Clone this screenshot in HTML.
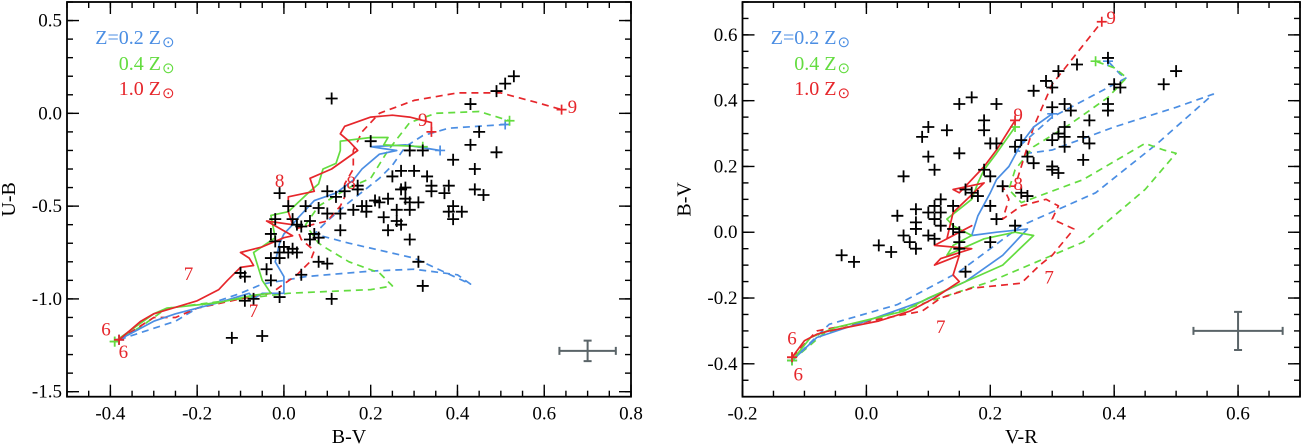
<!DOCTYPE html>
<html><head><meta charset="utf-8"><style>
html,body{margin:0;padding:0;background:#fff}
svg{display:block}
text{font-family:"Liberation Serif",serif}
</style></head><body>
<svg id="fig" width="1302" height="447"></svg>
<script>
// ===== Left panel data (B-V, U-B) =====
const leftObsX=[0.11,0.49,0.51,0.53,0.43,0.45,0.43,0.49,0.20,0.29,0.32,0.39,0.44,0.27,0.30,0.33,0.25,0.34,0.34,0.28,0.27,0.38,0.37,0.44,0.46,0.17,0.17,0.14,0.12,0.10,0.21,0.22,0.24,0.28,0.29,0.31,0.19,0.18,0.19,0.26,0.29,0.39,0.41,0.38,0.39,0.16,0.13,0.10,0.08,0.05,0.23,0.26,0.27,0.24,0.13,0.06,0.04,0.02,0.01,-0.01,-0.02,0.03,-0.03,0.07,0.08,0.06,-0.02,0.0,0.02,0.03,0.01,-0.01,-0.03,-0.01,-0.04,0.08,0.10,0.04,-0.03,-0.10,-0.09,0.29,0.31,0.32,0.11,-0.01,-0.07,-0.09,-0.12,-0.05];
const leftObsY=[0.08,0.12,0.16,0.20,0.05,-0.10,-0.17,-0.21,-0.15,-0.20,-0.20,-0.25,-0.30,-0.31,-0.31,-0.34,-0.34,-0.39,-0.42,-0.40,-0.41,-0.39,-0.43,-0.41,-0.44,-0.39,-0.41,-0.42,-0.45,-0.42,-0.47,-0.48,-0.46,-0.46,-0.48,-0.48,-0.50,-0.50,-0.53,-0.52,-0.52,-0.50,-0.53,-0.53,-0.57,-0.52,-0.54,-0.54,-0.51,-0.50,-0.56,-0.58,-0.60,-0.63,-0.63,-0.58,-0.61,-0.57,-0.50,-0.43,-0.57,-0.60,-0.65,-0.65,-0.67,-0.68,-0.69,-0.72,-0.73,-0.75,-0.75,-0.75,-0.78,-0.78,-0.84,-0.80,-0.81,-0.87,-0.90,-0.86,-0.88,-0.68,-0.80,-0.93,-1.00,-0.99,-1.00,-1.01,-1.21,-1.20];
const leftRedSolidX=[-0.38,-0.33,-0.30,-0.20,-0.15,-0.13,-0.10,-0.07,-0.08,-0.10,-0.05,0.00,0.02,-0.04,0.02,0.01,0.01,0.07,0.06,0.11,0.17,0.15,0.13,0.14,0.20,0.25,0.29,0.34,0.34];
const leftRedSolidY=[-1.22,-1.12,-1.08,-1.01,-0.95,-0.90,-0.83,-0.82,-0.78,-0.75,-0.72,-0.67,-0.66,-0.58,-0.60,-0.53,-0.45,-0.42,-0.35,-0.30,-0.20,-0.15,-0.11,-0.07,-0.02,-0.01,-0.02,-0.05,-0.10];
const leftRedDashX=[-0.38,-0.30,-0.25,-0.20,-0.10,-0.03,0.03,0.06,0.07,0.04,0.03,0.10,0.13,0.14,0.14,0.16,0.16,0.18,0.22,0.30,0.40,0.50,0.58,0.64];
const leftRedDashY=[-1.22,-1.10,-1.10,-1.05,-1.00,-0.97,-0.87,-0.80,-0.74,-0.68,-0.62,-0.58,-0.50,-0.45,-0.38,-0.30,-0.20,-0.10,0.00,0.07,0.11,0.11,0.06,0.02];
const leftGreenSolidX=[-0.39,-0.30,-0.27,-0.15,-0.07,-0.03,-0.05,-0.07,-0.02,-0.03,0.01,0.06,0.08,0.09,0.12,0.13,0.13,0.20,0.24,0.23,0.32];
const leftGreenSolidY=[-1.23,-1.08,-1.05,-1.02,-0.98,-0.97,-0.90,-0.75,-0.67,-0.55,-0.53,-0.42,-0.38,-0.30,-0.27,-0.20,-0.15,-0.13,-0.13,-0.17,-0.18];
const leftGreenDashX=[-0.39,-0.33,-0.27,-0.10,0.01,0.10,0.20,0.25,0.22,0.15,0.10,0.08,0.05,0.08,0.15,0.20,0.24,0.29,0.35,0.45,0.52];
const leftGreenDashY=[-1.23,-1.15,-1.05,-1.00,-0.97,-0.96,-0.95,-0.93,-0.86,-0.80,-0.73,-0.70,-0.60,-0.50,-0.40,-0.35,-0.20,-0.05,0.00,0.01,-0.04];
const leftBlueSolidX=[-0.38,-0.30,-0.25,-0.15,-0.08,-0.07,-0.05,0.00,0.00,-0.02,-0.01,0.00,0.02,0.03,0.07,0.12,0.16,0.18,0.22,0.26,0.20,0.28,0.36];
const leftBlueSolidY=[-1.22,-1.12,-1.08,-1.02,-0.97,-1.00,-0.97,-0.97,-0.88,-0.80,-0.70,-0.65,-0.60,-0.57,-0.47,-0.43,-0.36,-0.30,-0.22,-0.20,-0.18,-0.17,-0.20];
const leftBlueDashX=[-0.38,-0.25,-0.20,-0.10,-0.05,0.05,0.20,0.30,0.40,0.43,0.30,0.15,0.07,0.10,0.15,0.22,0.25,0.28,0.32,0.38,0.51];
const leftBlueDashY=[-1.22,-1.12,-1.05,-0.97,-0.92,-0.88,-0.85,-0.84,-0.87,-0.92,-0.78,-0.70,-0.65,-0.58,-0.48,-0.35,-0.28,-0.18,-0.12,-0.08,-0.06];
const leftAgeLabels=["6","6","7","7","8","8","9","9"];
const leftAgeX=[-0.41,-0.37,-0.22,-0.07,-0.01,0.155,0.32,0.665];
const leftAgeY=[-1.16,-1.28,-0.86,-1.06,-0.36,-0.37,-0.03,0.04];
const leftXTicks=[-0.4,-0.2,0.0,0.2,0.4,0.6,0.8];
const leftXTickLabels=["-0.4","-0.2","0.0","0.2","0.4","0.6","0.8"];
const leftYTicks=[0.5,0.0,-0.5,-1.0,-1.5];
const leftYTickLabels=["0.5","0.0","-0.5","-1.0","-1.5"];

// ===== Right panel data (V-R, B-V) =====
const rightObsX=[-0.04,-0.02,0.02,0.04,0.05,0.06,0.06,0.07,0.08,0.08,0.08,0.08,0.09,0.10,0.10,0.11,0.10,0.11,0.11,0.10,0.11,0.12,0.12,0.12,0.13,0.14,0.14,0.15,0.15,0.17,0.15,0.15,0.15,0.16,0.16,0.17,0.18,0.19,0.19,0.19,0.20,0.20,0.20,0.20,0.21,0.21,0.21,0.22,0.24,0.25,0.25,0.26,0.26,0.27,0.24,0.27,0.29,0.30,0.30,0.31,0.30,0.31,0.32,0.32,0.32,0.32,0.33,0.30,0.30,0.31,0.34,0.35,0.35,0.36,0.36,0.39,0.39,0.39,0.40,0.41,0.48,0.50];
const rightObsY=[-0.07,-0.09,-0.04,-0.06,0.05,0.17,-0.01,-0.03,-0.05,0.07,0.03,0.01,0.29,0.32,0.23,0.19,0.06,0.08,0.04,-0.01,-0.02,0.06,0.02,0.10,0.31,0.08,0.01,0.39,0.24,0.41,0.00,-0.03,-0.05,-0.12,0.13,0.12,0.11,0.34,0.31,0.19,0.27,0.17,0.08,-0.03,0.39,0.27,0.04,0.14,0.26,0.28,0.12,0.11,0.23,0.21,0.02,0.43,0.46,0.44,0.38,0.49,0.28,0.30,0.32,0.29,0.26,0.39,0.37,0.20,0.19,0.18,0.51,0.29,0.22,0.27,0.34,0.53,0.39,0.37,0.45,0.44,0.45,0.49];
const rightRedSolidX=[-0.12,-0.10,-0.08,-0.06,0.02,0.07,0.09,0.11,0.15,0.14,0.15,0.11,0.12,0.17,0.11,0.17,0.13,0.14,0.19,0.14,0.15,0.19,0.21,0.24];
const rightRedSolidY=[-0.38,-0.33,-0.31,-0.30,-0.27,-0.24,-0.22,-0.20,-0.15,-0.13,-0.07,-0.10,-0.08,-0.05,-0.04,0.02,-0.02,0.06,0.15,0.13,0.12,0.20,0.25,0.34];
const rightRedDashX=[-0.12,-0.08,0.09,0.12,0.17,0.25,0.28,0.30,0.335,0.30,0.31,0.29,0.25,0.22,0.23,0.22,0.24,0.25,0.26,0.27,0.30,0.38];
const rightRedDashY=[-0.38,-0.30,-0.24,-0.20,-0.17,-0.155,-0.10,-0.07,0.01,0.04,0.08,0.10,0.08,0.04,0.10,0.14,0.14,0.20,0.26,0.32,0.45,0.64];
const rightGreenSolidX=[-0.12,-0.09,-0.05,0.06,0.10,0.16,0.22,0.27,0.24,0.19,0.13,0.14,0.17,0.14,0.13,0.15,0.17,0.18,0.19,0.21,0.24];
const rightGreenSolidY=[-0.39,-0.32,-0.29,-0.24,-0.20,-0.15,-0.10,-0.01,0.00,-0.02,-0.07,-0.04,-0.01,0.02,0.04,0.07,0.10,0.15,0.19,0.24,0.32];
const rightGreenDashX=[-0.12,-0.07,0.02,0.20,0.35,0.45,0.50,0.48,0.45,0.35,0.25,0.23,0.24,0.27,0.33,0.39,0.42,0.40,0.37];
const rightGreenDashY=[-0.39,-0.31,-0.26,-0.15,-0.03,0.13,0.24,0.25,0.27,0.16,0.09,0.13,0.19,0.26,0.33,0.41,0.47,0.50,0.52];
const rightBlueSolidX=[-0.12,-0.08,0.00,0.09,0.16,0.22,0.26,0.21,0.17,0.18,0.20,0.21,0.23,0.25,0.27,0.30];
const rightBlueSolidY=[-0.39,-0.32,-0.27,-0.21,-0.15,-0.07,0.01,0.00,-0.01,0.05,0.12,0.16,0.20,0.27,0.32,0.36];
const rightBlueDashX=[-0.12,-0.06,0.05,0.15,0.25,0.37,0.47,0.56,0.50,0.40,0.30,0.26,0.24,0.30,0.37,0.42,0.41,0.39];
const rightBlueDashY=[-0.39,-0.28,-0.22,-0.12,0.02,0.12,0.27,0.42,0.38,0.32,0.25,0.24,0.25,0.35,0.42,0.47,0.48,0.52];
const rightAgeLabels=["6","6","7","7","8","9","9"];
const rightAgeX=[-0.12,-0.11,0.12,0.295,0.245,0.245,0.395];
const rightAgeY=[-0.32,-0.43,-0.285,-0.135,0.15,0.36,0.655];
const rightXTicks=[-0.2,0.0,0.2,0.4,0.6];
const rightXTickLabels=["-0.2","0.0","0.2","0.4","0.6"];
const rightYTicks=[0.6,0.4,0.2,0.0,-0.2,-0.4];
const rightYTickLabels=["0.6","0.4","0.2","0.0","-0.2","-0.4"];

const NS="http://www.w3.org/2000/svg";
const svg=document.getElementById('fig');
const RED="#e6262b",GREEN="#63dc3f",BLUE="#4b8ee3",GRAY="#5a6468";
function mk(tag,attrs,parent){const e=document.createElementNS(NS,tag);for(const k in attrs)e.setAttribute(k,attrs[k]);(parent||svg).appendChild(e);return e;}

function panel(cfg){
  const g=mk('g',{});
  
  
  const sx=v=>cfg.x0+(v-cfg.xmin)/(cfg.xmax-cfg.xmin)*(cfg.x1-cfg.x0);
  const sy=v=>cfg.y1-(v-cfg.ymin)/(cfg.ymax-cfg.ymin)*(cfg.y1-cfg.y0);
  const fr=mk('rect',{x:cfg.x0,y:cfg.y0,width:cfg.x1-cfg.x0,height:cfg.y1-cfg.y0,fill:'none',stroke:'#000','stroke-width':1.8},g);
  
  
  for(let v=Math.ceil(cfg.xmin/cfg.xminor-1e-6)*cfg.xminor;v<=cfg.xmax+1e-6;v+=cfg.xminor){
    const X=sx(v);mk('line',{x1:X,x2:X,y1:cfg.y1,y2:cfg.y1-6,stroke:'#000','stroke-width':1.4},g);mk('line',{x1:X,x2:X,y1:cfg.y0,y2:cfg.y0+6,stroke:'#000','stroke-width':1.4},g);}
  for(let v=Math.ceil(cfg.ymin/cfg.yminor-1e-6)*cfg.yminor;v<=cfg.ymax+1e-6;v+=cfg.yminor){
    const Y=sy(v);mk('line',{x1:cfg.x0,x2:cfg.x0+6,y1:Y,y2:Y,stroke:'#000','stroke-width':1.4},g);mk('line',{x1:cfg.x1,x2:cfg.x1-6,y1:Y,y2:Y,stroke:'#000','stroke-width':1.4},g);}
  cfg.xt.forEach((v,i)=>{const X=sx(v);
    mk('line',{x1:X,x2:X,y1:cfg.y1,y2:cfg.y1-12,stroke:'#000','stroke-width':1.4},g);
    mk('line',{x1:X,x2:X,y1:cfg.y0,y2:cfg.y0+12,stroke:'#000','stroke-width':1.4},g);
    const t=mk('text',{x:X,y:cfg.y1+23,'font-size':19,'text-anchor':'middle'},g);t.textContent=cfg.xtl[i];
    
    });
  cfg.yt.forEach((v,i)=>{const Y=sy(v);
    mk('line',{x1:cfg.x0,x2:cfg.x0+12,y1:Y,y2:Y,stroke:'#000','stroke-width':1.4},g);
    mk('line',{x1:cfg.x1,x2:cfg.x1-12,y1:Y,y2:Y,stroke:'#000','stroke-width':1.4},g);
    const t=mk('text',{x:cfg.x0-5,y:Y+6,'font-size':19,'text-anchor':'end'},g);t.textContent=cfg.ytl[i];
    
    });
  const xt=mk('text',{x:(cfg.x0+cfg.x1)/2,y:443,'font-size':20,'text-anchor':'middle'},g);xt.textContent=cfg.xtitle;
  
  
  const yx=cfg.x0-52,yy=(cfg.y0+cfg.y1)/2;
  const yt=mk('text',{x:yx,y:yy,'font-size':20,'text-anchor':'middle',transform:`rotate(-90 ${yx} ${yy})`},g);yt.textContent=cfg.ytitle;
  
  
  cfg.tracks.forEach(tr=>{
    const pts=tr.xs.map((v,i)=>sx(v).toFixed(1)+','+sy(tr.ys[i]).toFixed(1)).join(' ');
    const p=mk('polyline',{points:pts,fill:'none',stroke:tr.c,'stroke-width':1.7,'stroke-dasharray':tr.d?'7,5':'none','stroke-linejoin':'round'},g);
    
    
    [0,tr.xs.length-1].forEach(i=>{const X=sx(tr.xs[i]),Y=sy(tr.ys[i]);
      mk('path',{d:`M${X-5},${Y}H${X+5}M${X},${Y-5}V${Y+5}`,stroke:tr.c,'stroke-width':1.7},g);});
  });
  cfg.ox.forEach((v,i)=>{const X=sx(v),Y=sy(cfg.oy[i]);
    const c=mk('path',{d:`M${X-6},${Y}H${X+6}M${X},${Y-6}V${Y+6}`,stroke:'#000','stroke-width':1.8},g);
    
    });
  cfg.al.forEach((s,i)=>{const t=mk('text',{x:sx(cfg.ax[i]),y:sy(cfg.ay[i])+7,'font-size':19,fill:RED,'text-anchor':'middle'},g);t.textContent=s;
    
    });
  const e=cfg.err,EX=sx(e[0]),EY=sy(e[1]),X0=sx(e[0]-e[2]),X1=sx(e[0]+e[2]),Y0=sy(e[1]+e[3]),Y1=sy(e[1]-e[3]);
  const eb=mk('path',{d:`M${X0},${EY}H${X1}M${EX},${Y0}V${Y1}M${X0},${EY-4}V${EY+4}M${X1},${EY-4}V${EY+4}M${EX-4},${Y0}H${EX+4}M${EX-4},${Y1}H${EX+4}`,stroke:GRAY,'stroke-width':2,fill:'none'},g);
  
  
  const lg=mk('g',{},g);
  
  
  [["Z=0.2 Z",BLUE,0],["0.4 Z",GREEN,26],["1.0 Z",RED,51]].forEach(([s,c,dy])=>{
    const t=mk('text',{x:cfg.x0+94,y:cfg.y0+42+dy,'font-size':20,fill:c,'text-anchor':'end'},lg);t.textContent=s;
    
    
    const s2=mk('text',{x:cfg.x0+95,y:cfg.y0+45+dy,'font-size':15,fill:c},lg);s2.textContent='⊙';
  });
}

panel({name:'left-panel-ub-vs-bv',x0:67,x1:631,y0:2,y1:396.7,xmin:-0.5,xmax:0.8,ymin:-1.527,ymax:0.6,xminor:0.05,yminor:0.1,
 xt:leftXTicks,xtl:leftXTickLabels,yt:leftYTicks,ytl:leftYTickLabels,xtitle:'B-V',ytitle:'U-B',
 ox:leftObsX,oy:leftObsY,al:leftAgeLabels,ax:leftAgeX,ay:leftAgeY,err:[0.7,-1.28,0.065,0.055],
 tracks:[{xs:leftBlueDashX,ys:leftBlueDashY,c:BLUE,d:1,name:'track-0.2z-dashed'},{xs:leftGreenDashX,ys:leftGreenDashY,c:GREEN,d:1,name:'track-0.4z-dashed'},{xs:leftRedDashX,ys:leftRedDashY,c:RED,d:1,name:'track-1.0z-dashed'},
  {xs:leftBlueSolidX,ys:leftBlueSolidY,c:BLUE,d:0,name:'track-0.2z-solid'},{xs:leftGreenSolidX,ys:leftGreenSolidY,c:GREEN,d:0,name:'track-0.4z-solid'},{xs:leftRedSolidX,ys:leftRedSolidY,c:RED,d:0,name:'track-1.0z-solid'}]});
panel({name:'right-panel-bv-vs-vr',x0:742.5,x1:1300,y0:2,y1:396.7,xmin:-0.2,xmax:0.7,ymin:-0.5,ymax:0.7,xminor:0.05,yminor:0.05,
 xt:rightXTicks,xtl:rightXTickLabels,yt:rightYTicks,ytl:rightYTickLabels,xtitle:'V-R',ytitle:'B-V',
 ox:rightObsX,oy:rightObsY,al:rightAgeLabels,ax:rightAgeX,ay:rightAgeY,err:[0.6,-0.3,0.072,0.058],
 tracks:[{xs:rightBlueDashX,ys:rightBlueDashY,c:BLUE,d:1,name:'track-0.2z-dashed'},{xs:rightGreenDashX,ys:rightGreenDashY,c:GREEN,d:1,name:'track-0.4z-dashed'},{xs:rightRedDashX,ys:rightRedDashY,c:RED,d:1,name:'track-1.0z-dashed'},
  {xs:rightBlueSolidX,ys:rightBlueSolidY,c:BLUE,d:0,name:'track-0.2z-solid'},{xs:rightGreenSolidX,ys:rightGreenSolidY,c:GREEN,d:0,name:'track-0.4z-solid'},{xs:rightRedSolidX,ys:rightRedSolidY,c:RED,d:0,name:'track-1.0z-solid'}]});
</script>
</body></html>
